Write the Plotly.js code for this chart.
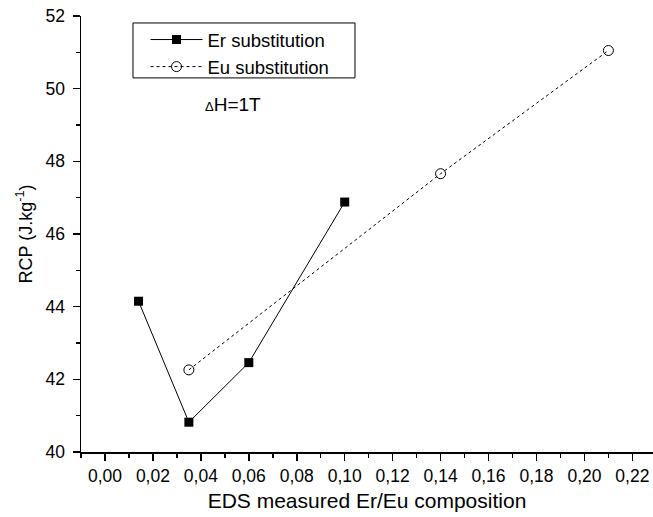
<!DOCTYPE html>
<html>
<head>
<meta charset="utf-8">
<script src="https://cdn.plot.ly/plotly-3.0.1.min.js"></script>
<style>html,body{margin:0;padding:0;background:#fff;}#chart{width:653px;height:517px;}</style>
</head>
<body>
<div id="chart"></div>
<script>
const erX = [0.014, 0.035, 0.060, 0.100];
const erY = [44.15, 40.82, 42.46, 46.88];
const euX = [0.035, 0.140, 0.210];
const euY = [42.26, 47.66, 51.05];
const erName = 'Er substitution';
const euName = 'Eu substitution';
const xTitle = 'EDS measured Er/Eu composition';
const yTitle = 'RCP (J.kg<sup>-1</sup>)';
const noteText = '<span style="font-size:13px">Δ</span>H=1T';

const font = 'Liberation Sans, Arial, sans-serif';

const traces = [
  {x: erX, y: erY, name: erName, mode: 'lines+markers', type: 'scatter',
   line: {color: '#000', width: 1},
   marker: {symbol: 'square', size: 9, color: '#000'}},
  {x: euX, y: euY, name: euName, mode: 'lines+markers', type: 'scatter',
   line: {color: '#000', width: 1, dash: '3px,3px'},
   marker: {symbol: 'circle-open', size: 10, color: '#000', line: {width: 1, color: '#000'}}}
];

const layout = {
  width: 653, height: 517,
  margin: {l: 81, r: 0, t: 16, b: 65},
  paper_bgcolor: '#fff', plot_bgcolor: '#fff',
  separators: ',.',
  font: {family: font, color: '#000'},
  showlegend: true,
  legend: {x: 0.1128, y: 0.9885, xanchor: 'left', yanchor: 'top',
    borderwidth: 0, bgcolor: 'rgba(0,0,0,0)', itemwidth: 52,
    font: {size: 18.5, family: font}, tracegroupgap: 0},
  shapes: [
    {type: 'rect', xref: 'paper', yref: 'paper', x0: 0.0909, x1: 0.479, y0: 0.858, y1: 0.984,
     line: {color: '#000', width: 1}, fillcolor: 'rgba(0,0,0,0)', layer: 'above'}
  ],
  xaxis: {range: [-0.01, 0.2286], showgrid: false, zeroline: false,
    showline: true, linecolor: '#000', linewidth: 1.5,
    ticks: 'outside', ticklen: 7, tickwidth: 1.5, tickcolor: '#000',
    tick0: 0, dtick: 0.02, tickformat: '.2f',
    tickfont: {size: 17.5, family: font},
    minor: {dtick: 0.01, tick0: 0, ticks: 'outside', ticklen: 4, tickwidth: 1.5, tickcolor: '#000'},
    title: {text: xTitle, font: {size: 21, family: font}, standoff: 9}},
  yaxis: {range: [40, 52], showgrid: false, zeroline: false,
    showline: true, linecolor: '#000', linewidth: 1.5,
    ticks: 'outside', ticklen: 7, tickwidth: 1.5, tickcolor: '#000',
    tick0: 40, dtick: 2, ticklabelstandoff: 4,
    tickfont: {size: 17.5, family: font},
    minor: {dtick: 1, tick0: 40, ticks: 'outside', ticklen: 4, tickwidth: 1.5, tickcolor: '#000'},
    title: {text: yTitle, font: {size: 18, family: font}, standoff: 8}},
  annotations: [
    {xref: 'paper', yref: 'paper', x: 0.266, y: 0.796, text: noteText, showarrow: false,
     font: {size: 19, family: font}, xanchor: 'center', yanchor: 'middle'}
  ]
};

Plotly.newPlot('chart', traces, layout, {displayModeBar: false, staticPlot: true});
</script>
</body>
</html>
